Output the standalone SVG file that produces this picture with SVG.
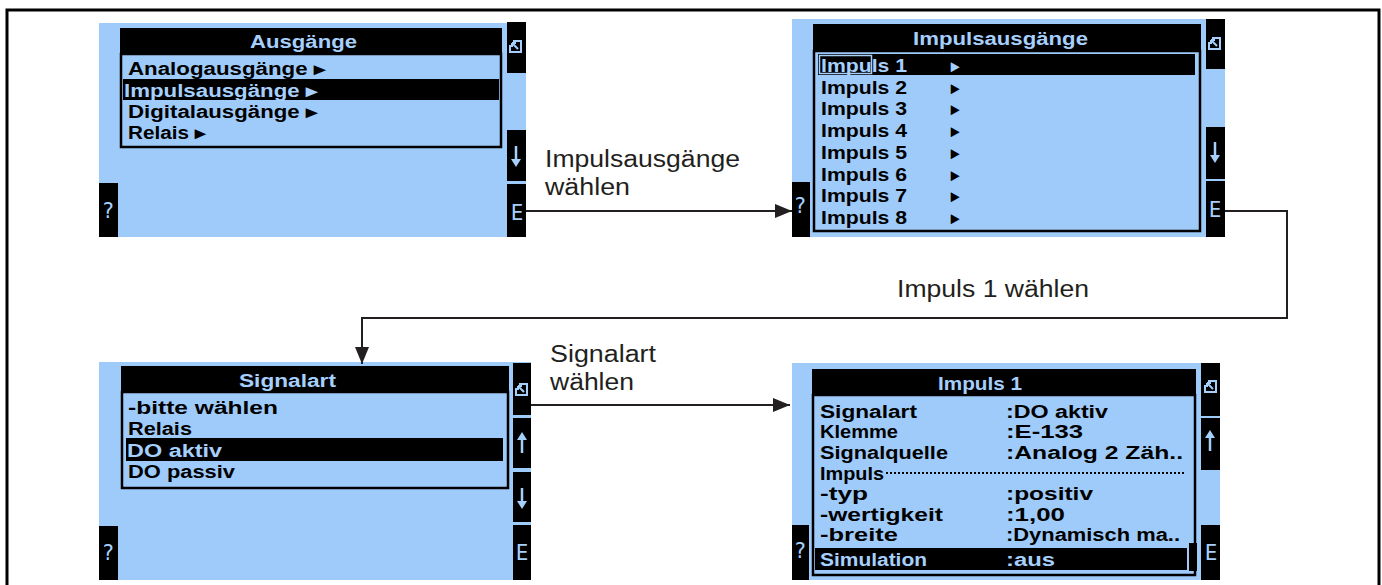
<svg xmlns="http://www.w3.org/2000/svg" xmlns:xlink="http://www.w3.org/1999/xlink" width="1382" height="585" viewBox="0 0 1382 585">
<style>
.bg{fill:#9fcbfa}
.blk{fill:#000}
.box{fill:none;stroke:#000;stroke-width:2.5}
.lcd{font-family:"Liberation Sans",Arial,sans-serif;font-size:18px;font-weight:bold}
.mono{font-family:"DejaVu Sans Mono","Liberation Mono",monospace;font-size:21px}
.tb{fill:#a6cffc}
.tk{fill:#000}
.lbl{font-family:"Liberation Sans",Arial,sans-serif;font-size:23px;fill:#231f20}
.conn{fill:none;stroke:#231f20;stroke-width:2}
</style>
<defs>
<marker id="ah" markerUnits="userSpaceOnUse" markerWidth="18" markerHeight="14" refX="17" refY="7" orient="auto">
<path d="M0,0 L17,7 L0,14 z" fill="#231f20"/>
</marker>
<g id="esc">
<path d="M4,1 H12 V12 H1 V5" fill="none" stroke="#a6cffc" stroke-width="2"/>
<path d="M3.5,3.5 L9,9 M3,3 h4 M3,3 v4" fill="none" stroke="#a6cffc" stroke-width="2"/>
</g>
<g id="dn">
<path d="M0,0 V15" stroke="#a6cffc" stroke-width="2.5"/>
<path d="M-5,13 L5,13 L0,21 z" fill="#a6cffc"/>
</g>
<g id="up">
<path d="M0,6 V21" stroke="#a6cffc" stroke-width="2.5"/>
<path d="M-5,8 L5,8 L0,0 z" fill="#a6cffc"/>
</g>
</defs>
<rect width="1382" height="585" fill="#fff"/>
<path d="M7,585 V10 H1379 V585" fill="none" stroke="#000" stroke-width="3"/>

<g id="screen1">
<rect class="bg" x="99" y="23" width="427" height="214"/>
<rect class="blk" x="507" y="22" width="19" height="51"/>
<rect class="blk" x="507" y="130" width="19" height="51"/>
<rect class="blk" x="507" y="184" width="19" height="53"/>
<rect class="blk" x="99" y="183" width="19" height="54"/>
<rect class="blk" x="120" y="28" width="382" height="26"/>
<rect class="box" x="121" y="54" width="380" height="93"/>
<rect class="blk" x="123" y="79" width="376" height="21"/>
<text class="lcd tb" x="250" y="48" textLength="107" lengthAdjust="spacingAndGlyphs">Ausgänge</text>
<text class="lcd tk" x="128" y="75" textLength="197" lengthAdjust="spacingAndGlyphs">Analogausgänge ▸</text>
<text class="lcd tb" x="124" y="97" textLength="193" lengthAdjust="spacingAndGlyphs">Impulsausgänge ▸</text>
<text class="lcd tk" x="128" y="118" textLength="189" lengthAdjust="spacingAndGlyphs">Digitalausgänge ▸</text>
<text class="lcd tk" x="128" y="139" textLength="77" lengthAdjust="spacingAndGlyphs">Relais ▸</text>
<use xlink:href="#esc" x="509" y="40"/>
<use xlink:href="#dn" x="516" y="146"/>
<text class="mono tb" x="517" y="220" text-anchor="middle">E</text>
<text class="mono tb" x="108" y="218" text-anchor="middle">?</text>
</g>

<g id="screen2">
<rect class="bg" x="792" y="19" width="433" height="218"/>
<rect class="blk" x="1206" y="19" width="19" height="50"/>
<rect class="blk" x="1206" y="127" width="19" height="52"/>
<rect class="blk" x="1206" y="181" width="19" height="56"/>
<rect class="blk" x="792" y="182" width="18" height="55"/>
<rect class="blk" x="813" y="24" width="388" height="27"/>
<rect class="box" x="814" y="51" width="386" height="180"/>
<rect class="blk" x="818" y="54" width="377" height="21"/>
<rect x="819.5" y="55.5" width="52" height="18" fill="none" stroke="#a6cffc" stroke-width="1.5"/>
<text class="lcd tb" x="913" y="45" textLength="175" lengthAdjust="spacingAndGlyphs">Impulsausgänge</text>
<text class="lcd tb" x="821" y="72" textLength="86" lengthAdjust="spacingAndGlyphs">Impuls 1</text>
<text class="lcd tk" x="821" y="93.7" textLength="86" lengthAdjust="spacingAndGlyphs">Impuls 2</text>
<text class="lcd tk" x="821" y="115.4" textLength="86" lengthAdjust="spacingAndGlyphs">Impuls 3</text>
<text class="lcd tk" x="821" y="137.1" textLength="86" lengthAdjust="spacingAndGlyphs">Impuls 4</text>
<text class="lcd tk" x="821" y="158.8" textLength="86" lengthAdjust="spacingAndGlyphs">Impuls 5</text>
<text class="lcd tk" x="821" y="180.5" textLength="86" lengthAdjust="spacingAndGlyphs">Impuls 6</text>
<text class="lcd tk" x="821" y="202.2" textLength="86" lengthAdjust="spacingAndGlyphs">Impuls 7</text>
<text class="lcd tk" x="821" y="224" textLength="86" lengthAdjust="spacingAndGlyphs">Impuls 8</text>
<text class="lcd tb" x="951" y="72" textLength="8" lengthAdjust="spacingAndGlyphs">▸</text>
<text class="lcd tk" x="951" y="93.7" textLength="8" lengthAdjust="spacingAndGlyphs">▸</text>
<text class="lcd tk" x="951" y="115.4" textLength="8" lengthAdjust="spacingAndGlyphs">▸</text>
<text class="lcd tk" x="951" y="137.1" textLength="8" lengthAdjust="spacingAndGlyphs">▸</text>
<text class="lcd tk" x="951" y="158.8" textLength="8" lengthAdjust="spacingAndGlyphs">▸</text>
<text class="lcd tk" x="951" y="180.5" textLength="8" lengthAdjust="spacingAndGlyphs">▸</text>
<text class="lcd tk" x="951" y="202.2" textLength="8" lengthAdjust="spacingAndGlyphs">▸</text>
<text class="lcd tk" x="951" y="224" textLength="8" lengthAdjust="spacingAndGlyphs">▸</text>
<use xlink:href="#esc" x="1208" y="37"/>
<use xlink:href="#dn" x="1215" y="142"/>
<text class="mono tb" x="1215" y="217" text-anchor="middle">E</text>
<text class="mono tb" x="800" y="213" text-anchor="middle">?</text>
</g>

<g id="screen3">
<rect class="bg" x="99" y="362" width="432" height="218"/>
<rect class="blk" x="513" y="363" width="18" height="52"/>
<rect class="blk" x="513" y="418" width="18" height="50"/>
<rect class="blk" x="513" y="472" width="18" height="50"/>
<rect class="blk" x="513" y="525" width="18" height="55"/>
<rect class="blk" x="99" y="526" width="19" height="54"/>
<rect class="blk" x="121" y="366" width="388" height="26"/>
<rect class="box" x="122" y="392" width="386" height="96"/>
<rect class="blk" x="126" y="438" width="377" height="23"/>
<text class="lcd tb" x="239" y="387" textLength="97" lengthAdjust="spacingAndGlyphs">Signalart</text>
<text class="lcd tk" x="128" y="414" textLength="150" lengthAdjust="spacingAndGlyphs">-bitte wählen</text>
<text class="lcd tk" x="128" y="435" textLength="64" lengthAdjust="spacingAndGlyphs">Relais</text>
<text class="lcd tb" x="127" y="457" textLength="95" lengthAdjust="spacingAndGlyphs">DO aktiv</text>
<text class="lcd tk" x="128" y="478" textLength="107" lengthAdjust="spacingAndGlyphs">DO passiv</text>
<use xlink:href="#esc" x="515" y="383"/>
<use xlink:href="#up" x="522" y="432"/>
<use xlink:href="#dn" x="522" y="488"/>
<text class="mono tb" x="522" y="560" text-anchor="middle">E</text>
<text class="mono tb" x="108" y="560" text-anchor="middle">?</text>
</g>

<g id="screen4">
<rect class="bg" x="792" y="363" width="428" height="217"/>
<rect class="blk" x="1201" y="363" width="19" height="53"/>
<rect class="blk" x="1201" y="418" width="19" height="52"/>
<rect class="blk" x="1201" y="525" width="19" height="55"/>
<rect class="blk" x="792" y="525" width="17" height="55"/>
<rect class="blk" x="812" y="369" width="384" height="26"/>
<rect class="box" x="813" y="395" width="382" height="180"/>
<rect class="blk" x="815" y="548" width="372" height="22"/>
<rect class="blk" x="1189" y="543" width="8" height="28"/>
<text class="lcd tb" x="938" y="390" textLength="84" lengthAdjust="spacingAndGlyphs">Impuls 1</text>
<text class="lcd tk" x="820" y="418" textLength="97" lengthAdjust="spacingAndGlyphs">Signalart</text>
<text class="lcd tk" x="820" y="438" textLength="78" lengthAdjust="spacingAndGlyphs">Klemme</text>
<text class="lcd tk" x="820" y="459" textLength="128" lengthAdjust="spacingAndGlyphs">Signalquelle</text>
<text class="lcd tk" x="820" y="480" textLength="64" lengthAdjust="spacingAndGlyphs">Impuls</text>
<path d="M886,473 H1185" stroke="#000" stroke-width="2" stroke-dasharray="2 2"/>
<text class="lcd tk" x="820" y="500" textLength="48" lengthAdjust="spacingAndGlyphs">-typ</text>
<text class="lcd tk" x="820" y="521" textLength="123" lengthAdjust="spacingAndGlyphs">-wertigkeit</text>
<text class="lcd tk" x="820" y="541" textLength="78" lengthAdjust="spacingAndGlyphs">-breite</text>
<text class="lcd tb" x="820" y="566" textLength="107" lengthAdjust="spacingAndGlyphs">Simulation</text>
<text class="lcd tk" x="1006" y="418" textLength="102" lengthAdjust="spacingAndGlyphs">:DO aktiv</text>
<text class="lcd tk" x="1006" y="438" textLength="77" lengthAdjust="spacingAndGlyphs">:E-133</text>
<text class="lcd tk" x="1006" y="459" textLength="177" lengthAdjust="spacingAndGlyphs">:Analog  2 Zäh..</text>
<text class="lcd tk" x="1006" y="500" textLength="87" lengthAdjust="spacingAndGlyphs">:positiv</text>
<text class="lcd tk" x="1006" y="521" textLength="59" lengthAdjust="spacingAndGlyphs">:1,00</text>
<text class="lcd tk" x="1006" y="541" textLength="174" lengthAdjust="spacingAndGlyphs">:Dynamisch ma..</text>
<text class="lcd tb" x="1006" y="566" textLength="49" lengthAdjust="spacingAndGlyphs">:aus</text>
<use xlink:href="#esc" x="1204" y="380"/>
<use xlink:href="#up" x="1210" y="430"/>
<text class="mono tb" x="1211" y="560" text-anchor="middle">E</text>
<text class="mono tb" x="800" y="558" text-anchor="middle">?</text>
</g>

<g id="connectors">
<path class="conn" d="M526,211 H792" marker-end="url(#ah)"/>
<path class="conn" d="M1225,211 H1287 V318 H362 V364" marker-end="url(#ah)"/>
<path class="conn" d="M531,405 H790" marker-end="url(#ah)"/>
</g>

<g id="labels">
<text class="lbl" x="545" y="167" textLength="195" lengthAdjust="spacingAndGlyphs">Impulsausgänge</text>
<text class="lbl" x="545" y="195" textLength="85" lengthAdjust="spacingAndGlyphs">wählen</text>
<text class="lbl" x="897" y="297" textLength="192" lengthAdjust="spacingAndGlyphs">Impuls 1 wählen</text>
<text class="lbl" x="550" y="362" textLength="106" lengthAdjust="spacingAndGlyphs">Signalart</text>
<text class="lbl" x="550" y="390" textLength="84" lengthAdjust="spacingAndGlyphs">wählen</text>
</g>
</svg>
